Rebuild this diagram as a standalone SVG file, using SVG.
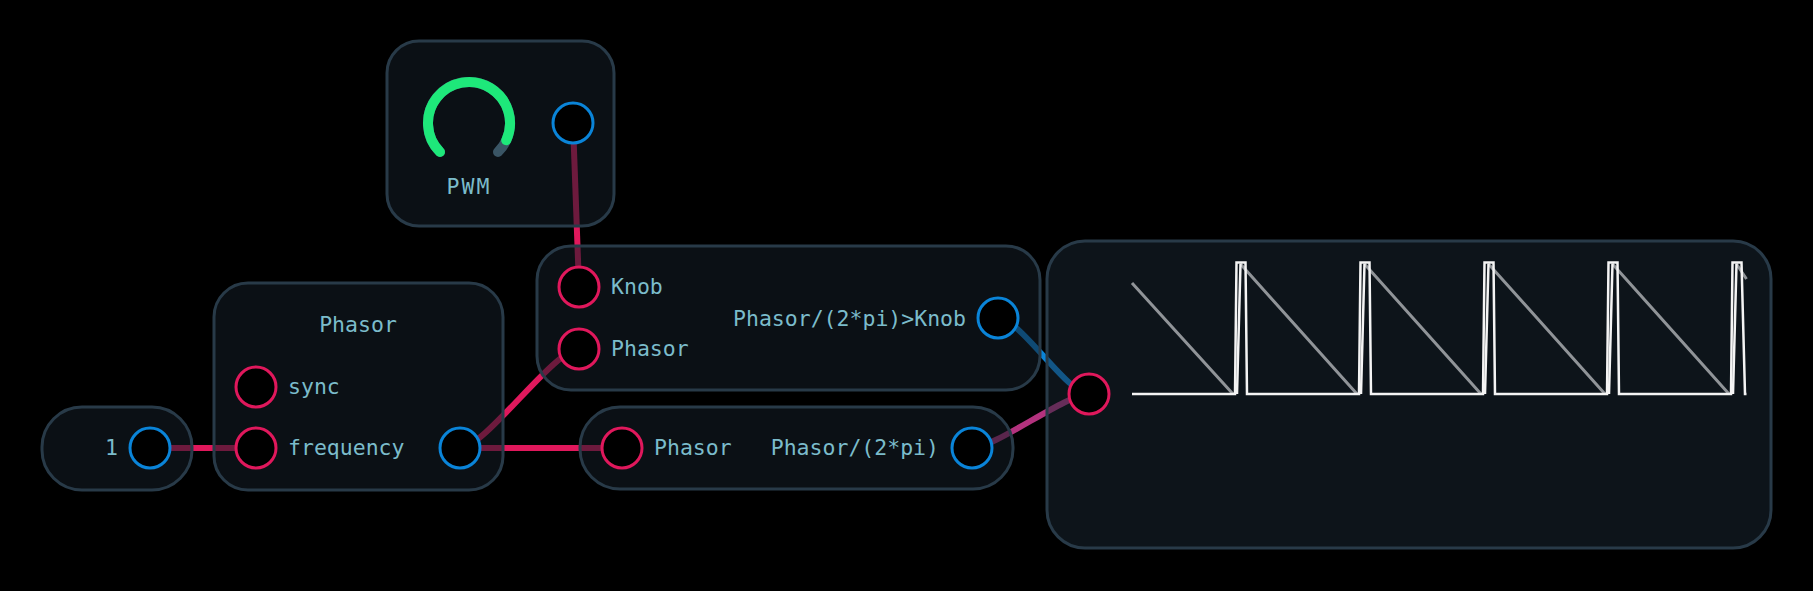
<svg xmlns="http://www.w3.org/2000/svg" width="1813" height="591" viewBox="0 0 1813 591">
<style>
.node{fill:#131c26;fill-opacity:0.56;stroke:#283a48;stroke-width:3}
.scope{fill:#1a2733;fill-opacity:0.5;stroke:#283a48;stroke-width:3}
.in{fill:#000;stroke:#e0185c;stroke-width:3}
.out{fill:#000;stroke:#0a84d8;stroke-width:3}
.lbl{font-family:"DejaVu Sans Mono","Liberation Mono",monospace;font-size:21.5px;fill:#7bbccb}
.wire{fill:none;stroke-width:6}
.pink{stroke:#e0185c}
.blue{stroke:#0a84d8}
.mag{stroke:#b3327e}
.wave{fill:none;stroke:#f4f4f4;stroke-width:2.5;stroke-linejoin:miter}
.saw{fill:none;stroke:#909498;stroke-width:3}
</style>
<rect x="0" y="0" width="1813" height="591" fill="#000"/>
<g id="connectors">
<path class="wire pink" d="M150 448 H256"/>
<path class="wire pink" d="M460 448 H622"/>
<path class="wire pink" d="M460 448 C485 448 554 349 579 349"/>
<path class="wire pink" d="M573 123 L579 287"/>
<path class="wire blue" d="M998 318 C1020 318 1067 394 1089 394"/>
<path class="wire mag" d="M972 448 C995 448 1066 394 1089 394"/>
</g>
<g id="node-pwm">
<rect class="node" x="387" y="41" width="227" height="185" rx="32"/>
<path d="M440 152 A41 41 0 1 1 498 152" fill="none" stroke="#3a5565" stroke-width="10" stroke-linecap="round"/>
<path d="M440 152 A41 41 0 1 1 506.2 140.3" fill="none" stroke="#1ee87a" stroke-width="10" stroke-linecap="round"/>
<text class="lbl" x="469" y="194" text-anchor="middle" letter-spacing="2">PWM</text>
<circle class="out" cx="573" cy="123" r="20"/>
</g>
<g id="node-const">
<rect class="node" x="42" y="407" width="150" height="83" rx="40"/>
<text class="lbl" x="118" y="455" text-anchor="end">1</text>
<circle class="out" cx="150" cy="448" r="20"/>
</g>
<g id="node-phasor">
<rect class="node" x="214" y="283" width="289" height="207" rx="34"/>
<text class="lbl" x="358" y="332" text-anchor="middle">Phasor</text>
<circle class="in" cx="256" cy="387" r="20"/>
<text class="lbl" x="288" y="394">sync</text>
<circle class="in" cx="256" cy="448" r="20"/>
<text class="lbl" x="288" y="455">frequency</text>
<circle class="out" cx="460" cy="448" r="20"/>
</g>
<g id="node-compare">
<rect class="node" x="537" y="246" width="503" height="144" rx="34"/>
<circle class="in" cx="579" cy="287" r="20"/>
<text class="lbl" x="611" y="294">Knob</text>
<circle class="in" cx="579" cy="349" r="20"/>
<text class="lbl" x="611" y="356">Phasor</text>
<text class="lbl" x="966" y="326" text-anchor="end">Phasor/(2*pi)&gt;Knob</text>
<circle class="out" cx="998" cy="318" r="20"/>
</g>
<g id="node-divide">
<rect class="node" x="580" y="407" width="433" height="82" rx="40"/>
<circle class="in" cx="622" cy="448" r="20"/>
<text class="lbl" x="654" y="455">Phasor</text>
<text class="lbl" x="939" y="455" text-anchor="end">Phasor/(2*pi)</text>
<circle class="out" cx="972" cy="448" r="20"/>
</g>
<g id="node-scope">
<rect class="scope" x="1047" y="241" width="724" height="307" rx="38"/>
<path class="saw" d="M1132 283 L1233 394 M1240.5 264 L1357 394 M1364.5 264 L1481 394 M1488.5 264 L1605 394 M1612.5 264 L1729 394 M1736.5 264 L1746.5 279"/>
<path class="wave" d="M1132 394 H1235 L1236.5 262.5 H1245.5 L1247 394 H1359 L1360.5 262.5 H1369.5 L1371 394 H1483 L1484.5 262.5 H1493.5 L1495 394 H1607 L1608.5 262.5 H1617.5 L1619 394 H1731 L1732.5 262.5 H1741.5 L1745 394 H1746.5"/>
<path class="wave" d="M1237 394 L1240.5 263.5 M1361 394 L1364.5 263.5 M1485 394 L1488.5 263.5 M1609 394 L1612.5 263.5 M1733 394 L1736.5 263.5"/>
<circle class="in" cx="1089" cy="394" r="20"/>
</g>
</svg>
